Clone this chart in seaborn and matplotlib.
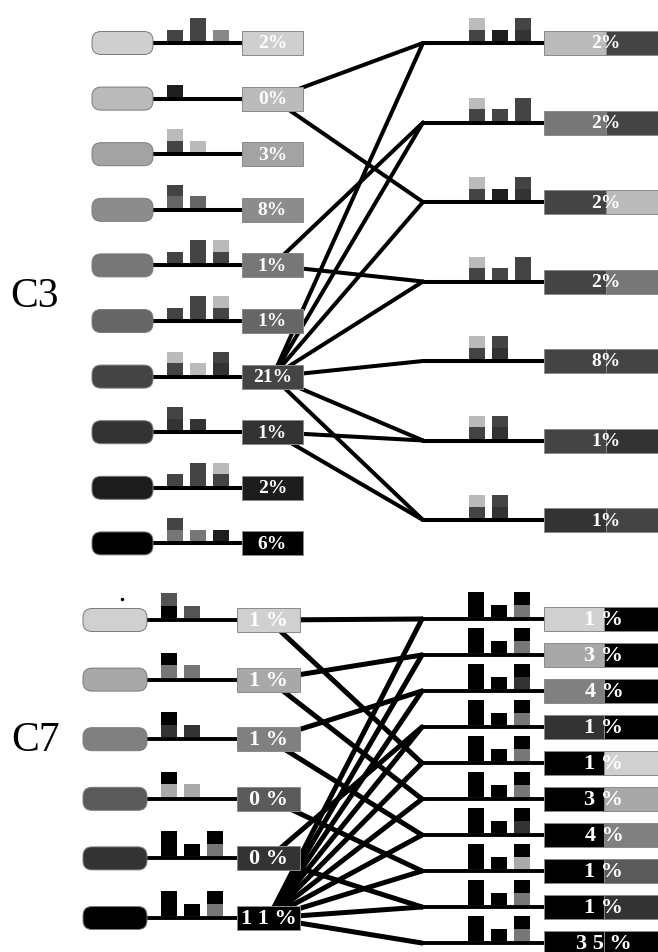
import matplotlib
matplotlib.use("Agg")
import matplotlib.pyplot as plt
from matplotlib.patches import FancyBboxPatch, Rectangle
import pandas as pd
import seaborn as sns

# ---------------- data ----------------
# shade codes used in the small stacked bars (one character = one unit, bottom -> top)
shade = {
    "A": "#bbbbbb", "B": "#444444", "D": "#333333", "E": "#666666",
    "F": "#888888", "G": "#777777", "K": "#1e1e1e", "Z": "#000000",
    "H": "#555555", "L": "#aaaaaa",
}

# cluster C3
c3_left_pct = [2, 0, 3, 8, 1, 1, 21, 1, 2, 6]
c3_left_tone = ["#cfcfcf", "#bbbbbb", "#a3a3a3", "#8c8c8c", "#777777",
                "#666666", "#444444", "#333333", "#1c1c1c", "#000000"]
c3_left_bars = [
    ["B", "BB", "F"], ["K"], ["BA", "A"], ["EB", "E"], ["B", "BB", "BA"],
    ["B", "BB", "BA"], ["BA", "A", "DB"], ["DB", "D"], ["B", "BB", "BA"],
    ["GB", "G", "K"],
]
c3_right_pct = [2, 2, 2, 2, 8, 1, 1]
c3_right_pairs = [(1, 6), (4, 6), (6, 1), (6, 4), (6, 6), (6, 7), (7, 6)]
c3_right_bars = [
    ["BA", "K", "DB"], ["BA", "B", "BB"], ["BA", "K", "DB"], ["BA", "B", "BB"],
    ["BA", "DB"], ["BA", "DB"], ["BA", "DB"],
]

# cluster C7
c7_left_pct = [1, 1, 1, 0, 0, 11]
c7_left_tone = ["#d0d0d0", "#a8a8a8", "#808080", "#5a5a5a", "#333333", "#000000"]
c7_left_bars = [
    ["ZH", "H"], ["GZ", "G"], ["DZ", "D"], ["LZ", "L"],
    ["ZZ", "Z", "GZ"], ["ZZ", "Z", "GZ"],
]
c7_right_pct = [1, 3, 4, 1, 1, 3, 4, 1, 1, 35]
c7_right_pairs = [(0, 5), (1, 5), (2, 5), (4, 5), (5, 0), (5, 1), (5, 2),
                  (5, 3), (5, 4), (5, 5)]
c7_right_bars = [["ZZ", "Z", c + "Z"] for c in "GGDGGGDLGG"]

# ---------------- drawing ----------------
sns.set_theme(style="white")
plt.rcParams["font.family"] = ["Liberation Serif", "DejaVu Serif"]

W, H = 658, 952
fig = plt.figure(figsize=(W / 100, H / 100), dpi=100)
ax = fig.add_axes([0, 0, 1, 1])
ax.set_xlim(0, W)
ax.set_ylim(0, H)
ax.axis("off")


def Y(py):
    return H - py


def stacked_bars(x0, base, stacks, unit, width=16, step=23):
    for j, stack in enumerate(stacks):
        bottom = Y(base)
        for code in stack:
            ax.bar(x0 + j * step + width / 2, unit, width=width, bottom=bottom,
                   color=shade[code], linewidth=0, zorder=3)
            bottom += unit


def box(x0, x1, yc, h, colors, text, fs, tx):
    n = len(colors)
    if n == 1:
        parts = [(x0, x1, colors[0])]
    else:
        mid = tx
        parts = [(x0, mid, colors[0]), (mid, x1, colors[1])]
    for a, b, c in parts:
        ax.add_patch(Rectangle((a, Y(yc) - h / 2), b - a, h, facecolor=c,
                               edgecolor="#8a8a8a", lw=0.7, zorder=4))
    ax.text(tx, Y(yc) - 1, text, color="white", fontsize=fs, fontweight="bold",
            ha="center", va="center", zorder=5)


def pill(x0, x1, yc, h, color):
    ax.add_patch(FancyBboxPatch((x0, Y(yc) - h / 2), x1 - x0, h,
                                boxstyle="round,pad=0,rounding_size=9",
                                facecolor=color, edgecolor="#7a7a7a", lw=0.7,
                                zorder=3))


def cluster(cfg):
    ly = [cfg["ly0"] + cfg["lstep"] * i for i in range(len(cfg["lpct"]))]
    ry = [cfg["ry0"] + cfg["rstep"] * k for k in range(len(cfg["rpct"]))]
    bx0, bx1 = cfg["lbox"]
    bxc = (bx0 + bx1) / 2

    # connections: each right node joins the left rows in its pair
    rows = []
    eid = 0
    for k, pair in enumerate(cfg["pairs"]):
        for i in sorted(set(pair)):
            rows.append({"x": bxc, "y": Y(ly[i]), "edge": eid})
            rows.append({"x": cfg["node_x"], "y": Y(ry[k]), "edge": eid})
            eid += 1
    edges = pd.DataFrame(rows)
    sns.lineplot(data=edges, x="x", y="y", units="edge", estimator=None,
                 sort=False, color="black", lw=cfg["edge_lw"], legend=False,
                 ax=ax, zorder=1, solid_capstyle="round")

    # left rows
    px0, px1 = cfg["pill"]
    for i, yc in enumerate(ly):
        ax.plot([(px0 + px1) / 2, bxc], [Y(yc), Y(yc)], color="black",
                lw=cfg["row_lw"], zorder=2, solid_capstyle="butt")
        pill(px0, px1, yc, 23, cfg["ltone"][i])
        stacked_bars(cfg["lbar_x"], yc - 2, cfg["lbars"][i], cfg["unit"])
        box(bx0, bx1, yc, 24, [cfg["ltone"][i]], cfg["fmt"](cfg["lpct"][i]),
            cfg["fs"], bxc)

    # right rows
    for k, yc in enumerate(ry):
        ax.plot([cfg["node_x"], 600], [Y(yc), Y(yc)], color="black",
                lw=cfg["row_lw"], zorder=2, solid_capstyle="round")
        stacked_bars(cfg["rbar_x"], yc - 2, cfg["rbars"][k], cfg["unit"])
        a, b = cfg["pairs"][k]
        box(544, 662, yc, 24, [cfg["ltone"][a], cfg["ltone"][b]],
            cfg["fmt"](cfg["rpct"][k]), cfg["fs"], cfg["rtext_x"])

    ax.text(cfg["label_xy"][0], Y(cfg["label_xy"][1]), cfg["label"],
            fontsize=30, ha="center", va="center", color="black")


cluster(dict(
    label="C3", label_xy=(34, 297),
    lpct=c3_left_pct, ltone=c3_left_tone, lbars=c3_left_bars,
    rpct=c3_right_pct, pairs=c3_right_pairs, rbars=c3_right_bars,
    ly0=43, lstep=55.6, ry0=43, rstep=79.5,
    pill=(92, 153), lbox=(242, 303), lbar_x=167, rbar_x=469,
    node_x=423, rtext_x=606, unit=11.5, fs=14,
    edge_lw=2.9, row_lw=2.9, fmt=lambda v: f"{v}%",
))

cluster(dict(
    label="C7", label_xy=(36, 741),
    lpct=c7_left_pct, ltone=c7_left_tone, lbars=c7_left_bars,
    rpct=c7_right_pct, pairs=c7_right_pairs, rbars=c7_right_bars,
    ly0=620, lstep=59.6, ry0=619, rstep=36,
    pill=(83, 147), lbox=(237, 300), lbar_x=161, rbar_x=468,
    node_x=422, rtext_x=604, unit=12.5, fs=16,
    edge_lw=3.6, row_lw=2.8, fmt=lambda v: " ".join(str(v)) + " %",
))

# small stray mark above the first C7 row
ax.plot([122], [Y(599)], marker="o", ms=1.5, color="black", zorder=5)

fig.savefig("out.png", dpi=100)
